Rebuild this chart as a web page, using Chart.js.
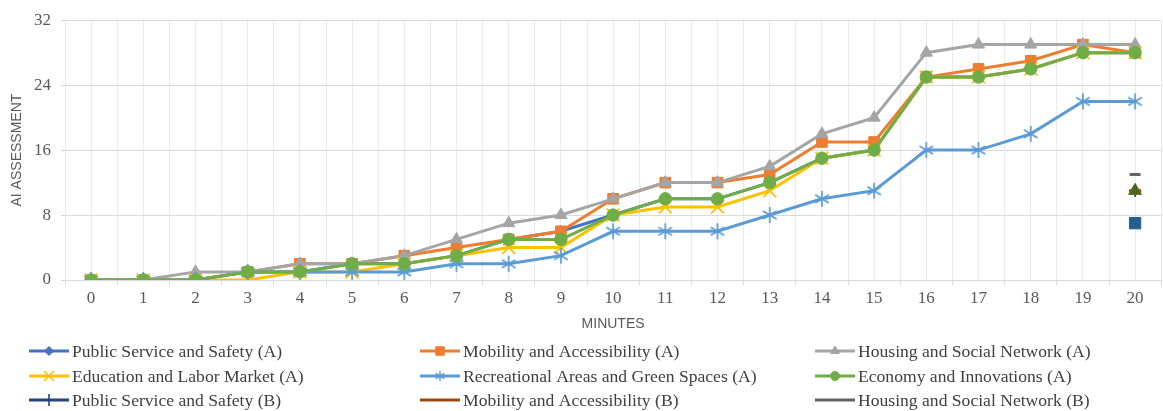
<!DOCTYPE html>
<html>
<head>
<meta charset="utf-8">
<script src="https://cdn.jsdelivr.net/npm/chart.js@4.4.1/dist/chart.umd.min.js"></script>
<style>
  html, body { margin: 0; padding: 0; background: #fff; overflow: hidden; }
  #wrap { width: 1172px; height: 411px; }
</style>
</head>
<body>
<div id="wrap"><canvas id="chart" width="1172" height="411"></canvas></div>
<script>
// minutes on the x axis
const minutes = [0, 1, 2, 3, 4, 5, 6, 7, 8, 9, 10, 11, 12, 13, 14, 15, 16, 17, 18, 19, 20]
const yTicks = [0, 8, 16, 24, 32]

// group A, one value per minute
const publicA = [0, 0, 0, 1, 1, 2, 2, 3, 5, 6, 8, 10, 10, 12, 15, 16, 25, 25, 26, 28, 28]
const mobilityA = [0, 0, 0, 1, 2, 2, 3, 4, 5, 6, 10, 12, 12, 13, 17, 17, 25, 26, 27, 29, 28]
const housingA = [0, 0, 1, 1, 2, 2, 3, 5, 7, 8, 10, 12, 12, 14, 18, 20, 28, 29, 29, 29, 29]
const educationA = [0, 0, 0, 0, 1, 1, 2, 3, 4, 4, 8, 9, 9, 11, 15, 16, 25, 25, 26, 28, 28]
const recreationA = [0, 0, 0, 1, 1, 1, 1, 2, 2, 3, 6, 6, 6, 8, 10, 11, 16, 16, 18, 22, 22]
const economyA = [0, 0, 0, 1, 1, 2, 2, 3, 5, 5, 8, 10, 10, 12, 15, 16, 25, 25, 26, 28, 28]

// group B, only the last minute is filled
const publicB = [null, null, null, null, null, null, null, null, null, null, null, null, null, null, null, null, null, null, null, null, 11]
const mobilityB = [null, null, null, null, null, null, null, null, null, null, null, null, null, null, null, null, null, null, null, null, 11]
const housingB = [null, null, null, null, null, null, null, null, null, null, null, null, null, null, null, null, null, null, null, null, 13]
const educationB = [null, null, null, null, null, null, null, null, null, null, null, null, null, null, null, null, null, null, null, null, 11]
const recreationB = [null, null, null, null, null, null, null, null, null, null, null, null, null, null, null, null, null, null, null, null, 7]
const economyB = [null, null, null, null, null, null, null, null, null, null, null, null, null, null, null, null, null, null, null, null, 11]

// excel style asterisk marker (X plus vertical bar)
function makeStar(size, color, lw) {
    const c = document.createElement('canvas')
    c.width = size
    c.height = size
    const g = c.getContext('2d')
    const m = size / 2
    const r = size / 2 - 1
    g.strokeStyle = color
    g.lineWidth = lw
    g.lineCap = 'butt'
    g.beginPath()
    g.moveTo(m, m - r)
    g.lineTo(m, m + r)
    const d = r * 0.85
    g.moveTo(m - d, m - d * 0.6)
    g.lineTo(m + d, m + d * 0.6)
    g.moveTo(m - d, m + d * 0.6)
    g.lineTo(m + d, m - d * 0.6)
    g.stroke()
    return c
}
const starBig = makeStar(18, '#5B9BD5', 1.7)
const starSmall = makeStar(12, '#5B9BD5', 1.4)

function series(label, data, color, style, radius, extra) {
    return Object.assign({
        label: label,
        data: data,
        borderColor: color,
        backgroundColor: color,
        pointBackgroundColor: color,
        pointBorderColor: color,
        borderWidth: 3,
        pointStyle: style,
        pointRadius: radius,
        pointBorderWidth: 1,
        spanGaps: false,
        tension: 0,
    }, extra || {})
}

const datasets = [
    series('Public Service and Safety (A)', publicA, '#4472C4', 'rectRot', 5.5),
    series('Mobility and Accessibility (A)', mobilityA, '#ED7D31', 'rect', 7.5),
    series('Housing and Social Network (A)', housingA, '#A5A5A5', 'triangle', 7),
    series('Education and Labor Market (A)', educationA, '#FFC000', 'crossRot', 9, { pointBorderWidth: 1.8 }),
    series('Recreational Areas and Green Spaces (A)', recreationA, '#5B9BD5', starBig, 9),
    series('Economy and Innovations (A)', economyA, '#70AD47', 'circle', 6.2),
    series('Public Service and Safety (B)', publicB, '#264478', 'cross', 6, { pointBorderWidth: 2 }),
    series('Mobility and Accessibility (B)', mobilityB, '#9E480E', 'line', 6, { pointBorderWidth: 3 }),
    series('Housing and Social Network (B)', housingB, '#636363', 'line', 5.5, { pointBorderWidth: 3 }),
    series('Education and Labor Market (B)', educationB, '#997300', 'triangle', 7.5),
    series('Recreational Areas and Green Spaces (B)', recreationB, '#255E91', 'rect', 8),
    series('Economy and Innovations (B)', economyB, '#43682B', 'triangle', 6.5),
]
// later series on top, like the spreadsheet
datasets.forEach((d, i) => { d.order = datasets.length - i })

// the visible part of the legend (3 columns x 3 rows)
const legendMarkers = [
    { style: 'rectRot', r: 4.5 },
    { style: 'rect', r: 6 },
    { style: 'triangle', r: 5 },
    { style: 'crossRot', r: 7, bw: 1.6 },
    { style: starSmall, r: 5 },
    { style: 'circle', r: 4.5 },
    { style: 'cross', r: 6, bw: 1.6 },
    { style: false },
    { style: false },
]

const gridLegend = {
    id: 'gridLegend',
    afterDraw(chart) {
        const ctx = chart.ctx
        const colX = [29, 420, 815]
        const rowY = [351, 376, 400]
        ctx.save()
        ctx.font = '17.6px "Liberation Serif", "Times New Roman", serif'
        ctx.textBaseline = 'middle'
        ctx.textAlign = 'left'
        for (let i = 0; i < legendMarkers.length; i++) {
            const ds = chart.data.datasets[i]
            const x = colX[i % 3]
            const y = rowY[Math.floor(i / 3)]
            ctx.strokeStyle = ds.borderColor
            ctx.lineWidth = 3
            ctx.beginPath()
            ctx.moveTo(x, y)
            ctx.lineTo(x + 40, y)
            ctx.stroke()
            const mk = legendMarkers[i]
            if (mk.style) {
                ctx.fillStyle = ds.borderColor
                ctx.lineWidth = mk.bw || 1
                Chart.helpers.drawPoint(ctx, { pointStyle: mk.style, radius: mk.r, rotation: 0, borderWidth: mk.bw || 1 }, x + 20, y)
            }
            ctx.fillStyle = '#404040'
            ctx.fillText(ds.label, x + 43, y + 1)
        }
        ctx.restore()
    },
}

const ctx = document.getElementById('chart').getContext('2d')

new Chart(ctx, {
    type: 'line',
    data: {
        labels: minutes,
        datasets: datasets,
    },
    options: {
        responsive: false,
        animation: false,
        layout: { padding: { top: 18, right: 2, bottom: 71, left: 0 } },
        plugins: {
            legend: { display: false },
            tooltip: { enabled: false },
        },
        scales: {
            x: {
                type: 'linear',
                min: -0.5,
                max: 20.5,
                afterFit: (scale) => { scale.height = 60 },
                ticks: {
                    stepSize: 0.5,
                    autoSkip: false,
                    maxRotation: 0,
                    padding: 3,
                    color: '#595959',
                    font: { family: '"Liberation Serif", "Times New Roman", serif', size: 17 },
                    callback: (v) => (Number.isInteger(v) ? String(v) : ''),
                },
                grid: {
                    color: '#ebebeb',
                    lineWidth: 1,
                    tickLength: 5,
                    tickColor: (c) => (c.tick && Number.isInteger(c.tick.value) ? 'rgba(0,0,0,0)' : '#d9d9d9'),
                },
                border: { color: '#d9d9d9', width: 1 },
                title: {
                    display: true,
                    text: 'MINUTES',
                    color: '#595959',
                    font: { family: '"Liberation Sans", Arial, sans-serif', size: 14 },
                    padding: { top: 0, bottom: 7 },
                },
            },
            y: {
                min: 0,
                max: 32,
                afterFit: (scale) => { scale.width = 65 },
                afterBuildTicks: (scale) => { scale.ticks = yTicks.map((v) => ({ value: v })) },
                ticks: {
                    padding: 10,
                    color: '#595959',
                    font: { family: '"Liberation Serif", "Times New Roman", serif', size: 17 },
                },
                grid: { color: '#d9d9d9', lineWidth: 1, tickLength: 4 },
                border: { display: false },
                title: {
                    display: true,
                    text: 'AI ASSESSMENT',
                    color: '#595959',
                    font: { family: '"Liberation Sans", Arial, sans-serif', size: 14 },
                    padding: { top: 9, bottom: 0 },
                },
            },
        },
    },
    plugins: [gridLegend],
})
</script>
</body>
</html>
